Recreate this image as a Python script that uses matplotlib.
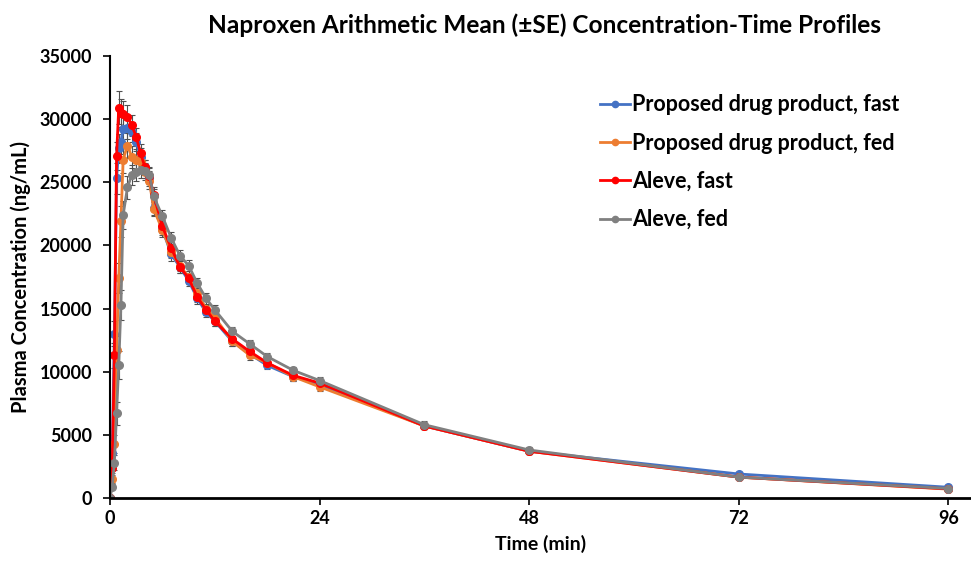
import matplotlib
matplotlib.use('Agg')
import matplotlib.pyplot as plt
from matplotlib.lines import Line2D

plt.rcParams['font.family'] = ['Lato', 'DejaVu Sans']

# sampling times (h)
times = [0, 0.25, 0.5, 0.75, 1, 1.25, 1.5, 2, 2.5, 3, 3.5, 4, 4.5, 5, 6, 7, 8,
         9, 10, 11, 12, 14, 16, 18, 21, 24, 36, 48, 72, 96]

# mean concentrations (ng/mL)
prod_fast = [0, 3600, 13000, 25300, 27700, 28200, 29200, 29300, 29000, 28200, 27000,
             26200, 25300, 23000, 21300, 19300, 18300, 17200, 15800, 14700, 14000,
             12400, 11400, 10500, 9600, 9000, 5700, 3700, 1900, 850]
prod_fed = [0, 1500, 4300, 11700, 17400, 21900, 26800, 27900, 27000, 26800, 26600,
            25800, 25100, 22900, 21200, 19500, 18400, 17500, 16200, 15000, 14300,
            12400, 11300, 10700, 9600, 8800, 5700, 3700, 1650, 700]
aleve_fast = [0, 2400, 11300, 27100, 30900, 30500, 30400, 30200, 29500, 28600, 27300,
              26200, 25500, 24000, 21500, 19800, 18300, 17400, 15900, 14900, 14000,
              12600, 11600, 10700, 9700, 9100, 5700, 3700, 1650, 720]
aleve_fed = [0, 900, 2800, 6700, 10500, 15300, 22400, 24600, 25600, 25800, 26000,
             25900, 25600, 23900, 22300, 20600, 19200, 18400, 17000, 15800, 14900,
             13200, 12200, 11200, 10100, 9300, 5800, 3800, 1650, 750]

# standard errors (ng/mL)
se_prod_fast = [0, 500, 1000, 1200, 1100, 1000, 1000, 900, 800, 700, 700, 600, 600,
                600, 500, 500, 450, 450, 400, 400, 400, 350, 350, 300, 300, 300, 250,
                200, 150, 100]
se_prod_fed = [0, 300, 700, 1100, 1200, 1200, 1100, 1000, 900, 800, 700, 650, 600,
               600, 500, 500, 450, 450, 400, 400, 400, 350, 350, 300, 300, 300, 250,
               200, 150, 100]
se_aleve_fast = [0, 400, 1000, 1100, 1300, 1100, 1000, 900, 800, 700, 700, 600, 600,
                 600, 500, 500, 450, 450, 400, 400, 400, 350, 350, 300, 300, 300, 250,
                 200, 150, 100]
se_aleve_fed = [0, 200, 600, 900, 1100, 1200, 1100, 900, 800, 700, 650, 600, 600,
                600, 500, 500, 450, 450, 400, 400, 400, 350, 350, 300, 300, 300, 300,
                200, 150, 100]

series = [
    ('Proposed drug product, fast', prod_fast, se_prod_fast, '#4472C4'),
    ('Proposed drug product, fed', prod_fed, se_prod_fed, '#ED7D31'),
    ('Aleve, fast', aleve_fast, se_aleve_fast, '#FF0000'),
    ('Aleve, fed', aleve_fed, se_aleve_fed, '#808080'),
]

fig = plt.figure(figsize=(9.71, 5.65), dpi=100)
ax = fig.add_axes([0.1133, 0.1186, 0.886, 0.7823])

handles = []
for label, vals, se, color in series:
    ax.errorbar(times, vals, yerr=se, color=color, marker='o', markersize=5.5,
                linewidth=2, ecolor='#505050', elinewidth=0.8, capsize=2.5,
                capthick=0.8)
    handles.append(Line2D([], [], color=color, marker='o', markersize=4.5,
                          linewidth=2, label=label))

ax.set_xlim(0, 98.5)
ax.set_ylim(0, 35000)
ax.set_xticks([0, 24, 48, 72, 96])
ax.set_yticks(range(0, 35001, 5000))
ax.tick_params(axis='both', direction='out', length=5, width=1.2, labelsize=13)
ax.tick_params(axis='y', pad=8)
for lbl in ax.get_xticklabels() + ax.get_yticklabels():
    lbl.set_fontweight('bold')

for side in ['top', 'right']:
    ax.spines[side].set_visible(False)
ax.spines['left'].set_linewidth(1.5)
ax.spines['bottom'].set_linewidth(2)

ax.set_xlabel('Time (min)', fontsize=14, fontweight='bold', labelpad=6)
ax.set_ylabel('Plasma Concentration (ng/mL)', fontsize=14.5, fontweight='bold', labelpad=6)
fig.text(0.561, 0.955, 'Naproxen Arithmetic Mean (\u00b1SE) Concentration-Time Profiles',
         ha='center', va='center', fontsize=17.6, fontweight='bold')

leg = ax.legend(handles=handles, loc='upper left', bbox_to_anchor=(0.547, 0.957),
                frameon=False, prop={'size': 15.5, 'weight': 'bold'},
                labelspacing=0.8, handlelength=1.4, handletextpad=0.1)

fig.savefig('out.png', dpi=100)
